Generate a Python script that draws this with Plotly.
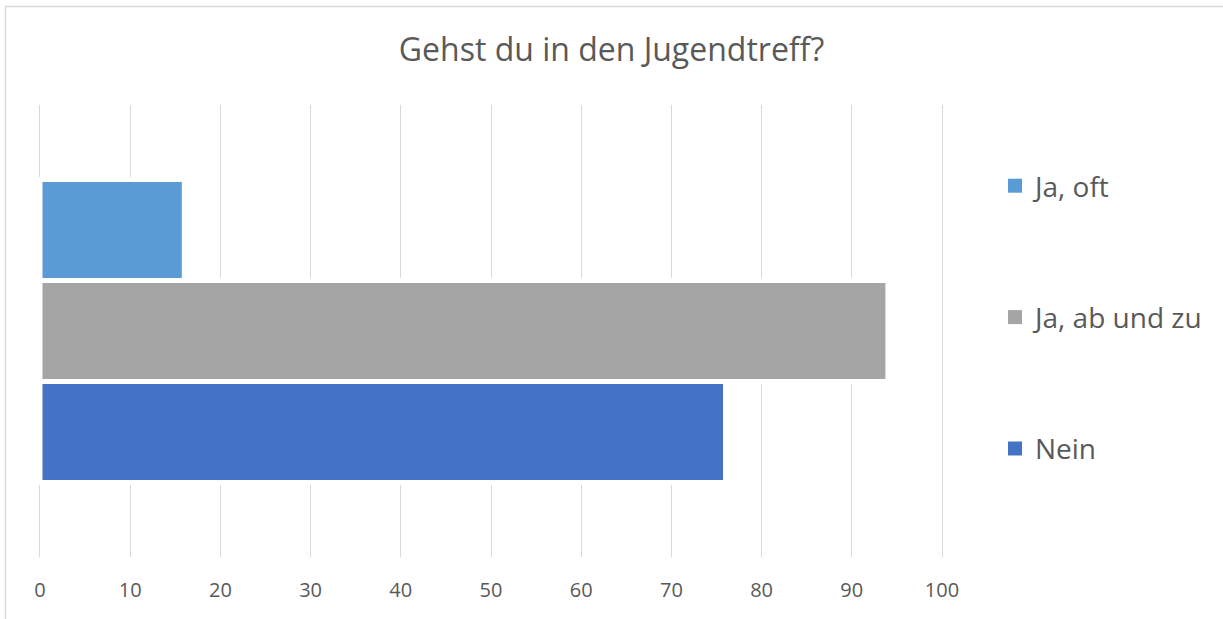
import plotly.graph_objects as go

# Data (top-to-bottom order as in the chart)
answers = ["Ja, oft", "Ja, ab und zu", "Nein"]
counts = [16, 94, 76]
colors = ["#5B9BD5", "#A5A5A5", "#4472C4"]
question = "Gehst du in den Jugendtreff?"
x_ticks = [0, 10, 20, 30, 40, 50, 60, 70, 80, 90, 100]

W, H = 1223, 619
ML, MR, MT, MB = 38, 279, 105, 62
PW, PH = W - ML - MR, H - MT - MB
PAD = 0.22  # small axis padding so the 0 and 100 gridlines are drawn
FONT = "Open Sans, Noto Sans, sans-serif"
TXT = "#595959"

fig = go.Figure()

# bars: plotly places grouped horizontal bars bottom-up, so add in reverse
for name, val, col in reversed(list(zip(answers, counts, colors))):
    fig.add_trace(go.Bar(
        y=["Antwort"], x=[val], name=name, orientation="h",
        marker=dict(color=col, line=dict(color="white", width=5)),
        showlegend=False, hoverinfo="x+name",
    ))

# legend entries (square swatches)
for name, col in zip(answers, colors):
    fig.add_trace(go.Scatter(
        x=[None], y=[None], mode="markers", name=name, legendgroup=name,
        marker=dict(symbol="square", size=14, color=col),
        showlegend=True,
    ))

def px_x(p):
    return (p - ML) / PW

def px_y(p):
    return (H - MB - p) / PH

fig.update_layout(
    width=W, height=H,
    margin=dict(l=ML, r=MR, t=MT, b=MB),
    paper_bgcolor="white", plot_bgcolor="white",
    barmode="group", bargap=0.33, bargroupgap=0,
    font=dict(family=FONT, color=TXT, size=20),
    title=dict(text=question, x=0.5, xref="container", xanchor="center",
               y=1 - 50 / H, yref="container", yanchor="middle",
               font=dict(family=FONT, size=32, color=TXT)),
    xaxis=dict(range=[x_ticks[0] - PAD, x_ticks[-1] + PAD], tickvals=x_ticks,
               showgrid=True, gridcolor="#D9D9D9", gridwidth=1, zeroline=False,
               showline=False, ticks="", ticklabelstandoff=19,
               tickfont=dict(family=FONT, size=20, color=TXT),
               fixedrange=True),
    yaxis=dict(showticklabels=False, showgrid=False, zeroline=False,
               showline=False, ticks="", fixedrange=True),
    legend=dict(x=px_x(995), xanchor="left", y=px_y(161), yanchor="top",
                tracegroupgap=92, font=dict(family=FONT, size=28, color=TXT),
                bgcolor="rgba(0,0,0,0)", itemclick=False, itemdoubleclick=False),
    shapes=[
        dict(type="line", xref="paper", yref="paper",
             x0=px_x(5.5), x1=px_x(5.5), y0=px_y(6), y1=px_y(H + 5),
             line=dict(color="#D9D9D9", width=1.5)),
        dict(type="line", xref="paper", yref="paper",
             x0=px_x(5), x1=px_x(W + 5), y0=px_y(6.5), y1=px_y(6.5),
             line=dict(color="#D9D9D9", width=1.5)),
    ],
    showlegend=True,
)

fig.write_html("out.html", config={"displayModeBar": False},
               post_script="document.body.style.margin='0';")
